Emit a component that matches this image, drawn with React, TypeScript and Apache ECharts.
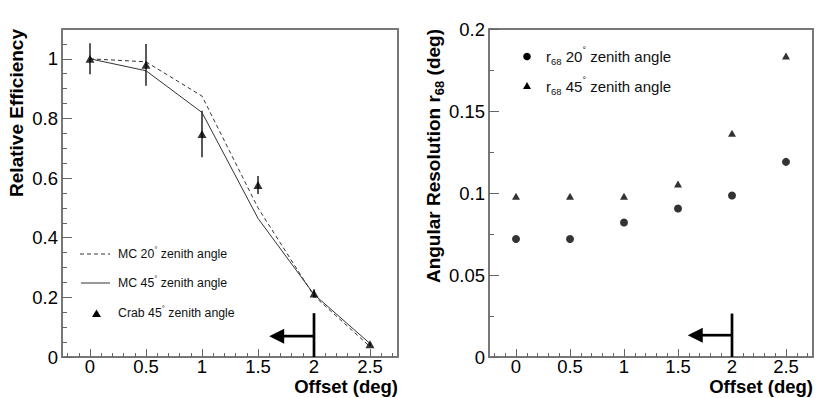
import React, { useEffect, useRef } from "react";
import * as echarts from "echarts";

// ---------- data ----------
const offsets = [0, 0.5, 1, 1.5, 2, 2.5];
const mc20 = [1.0, 0.99, 0.875, 0.5, 0.205, 0.035];
const mc45 = [1.0, 0.96, 0.82, 0.465, 0.21, 0.045];
const crab45 = [1.0, 0.98, 0.748, 0.577, 0.213, 0.043];
const crab45Err = [0.052, 0.07, 0.078, 0.03, 0.014, 0.006];
const r68zen20 = [0.072, 0.072, 0.082, 0.0905, 0.0985, 0.119];
const r68zen45 = [0.098, 0.098, 0.098, 0.1055, 0.1365, 0.1835];

// ---------- ticks ----------
const xTickValues = [0, 0.5, 1, 1.5, 2, 2.5];
const xMinorTickValues = [
  -0.2, -0.1, 0.1, 0.2, 0.3, 0.4, 0.6, 0.7, 0.8, 0.9, 1.1, 1.2, 1.3, 1.4,
  1.6, 1.7, 1.8, 1.9, 2.1, 2.2, 2.3, 2.4, 2.6, 2.7,
];
const effTickValues = [0, 0.2, 0.4, 0.6, 0.8, 1];
const effMinorTickValues = [
  0.05, 0.1, 0.15, 0.25, 0.3, 0.35, 0.45, 0.5, 0.55, 0.65, 0.7, 0.75, 0.85,
  0.9, 0.95, 1.05,
];
const resTickValues = [0, 0.05, 0.1, 0.15, 0.2];
const resMinorTickValues = [0.025, 0.075, 0.125, 0.175];

// fiducial cut arrows: [cut offset, top of bar, arrow level, arrow tip offset]
const effCutArrow = [2, 0.147, 0.07, 1.6];
const resCutArrow = [2, 0.0265, 0.0133, 1.59];

const FONT = "Liberation Sans";
const FRAME = "#777";
const TICK = "#666";

function majorX(gridIndex: number) {
  return {
    type: "value",
    gridIndex,
    position: "bottom",
    min: -0.25,
    max: 2.75,
    axisLine: { show: true, onZero: false, lineStyle: { color: FRAME, width: 2 } },
    axisTick: {
      show: true,
      inside: true,
      length: 8,
      customValues: xTickValues,
      lineStyle: { color: TICK, width: 1 },
    },
    axisLabel: {
      customValues: xTickValues,
      fontFamily: FONT,
      fontSize: 18.5,
      color: "#000",
      margin: 0,
    },
    splitLine: { show: false },
  };
}
function minorX(gridIndex: number) {
  return {
    type: "value",
    gridIndex,
    position: "bottom",
    min: -0.25,
    max: 2.75,
    axisLine: { show: false, onZero: false },
    axisTick: {
      show: true,
      inside: true,
      length: 4,
      customValues: xMinorTickValues,
      lineStyle: { color: TICK, width: 1 },
    },
    axisLabel: { show: false },
    splitLine: { show: false },
  };
}
function frameX(gridIndex: number) {
  return {
    type: "value",
    gridIndex,
    position: "top",
    min: -0.25,
    max: 2.75,
    axisLine: { show: true, onZero: false, lineStyle: { color: FRAME, width: 2 } },
    axisTick: { show: false },
    axisLabel: { show: false },
    splitLine: { show: false },
  };
}
function majorY(gridIndex: number, max: number, ticks: number[]) {
  return {
    type: "value",
    gridIndex,
    position: "left",
    min: 0,
    max,
    axisLine: { show: true, onZero: false, lineStyle: { color: FRAME, width: 2 } },
    axisTick: {
      show: true,
      inside: true,
      length: 10,
      customValues: ticks,
      lineStyle: { color: TICK, width: 1 },
    },
    axisLabel: {
      customValues: ticks,
      fontFamily: FONT,
      fontSize: 18.5,
      color: "#000",
      margin: 4,
    },
    splitLine: { show: false },
  };
}
function minorY(gridIndex: number, max: number, ticks: number[]) {
  return {
    type: "value",
    gridIndex,
    position: "left",
    min: 0,
    max,
    axisLine: { show: false, onZero: false },
    axisTick: {
      show: true,
      inside: true,
      length: 5,
      customValues: ticks,
      lineStyle: { color: TICK, width: 1 },
    },
    axisLabel: { show: false },
    splitLine: { show: false },
  };
}
function frameY(gridIndex: number, max: number) {
  return {
    type: "value",
    gridIndex,
    position: "right",
    min: 0,
    max,
    axisLine: { show: true, onZero: false, lineStyle: { color: FRAME, width: 2 } },
    axisTick: { show: false },
    axisLabel: { show: false },
    splitLine: { show: false },
  };
}

function arrowRender(params: any, api: any) {
  const x = api.value(0);
  const top = api.value(1);
  const ay = api.value(2);
  const tip = api.value(3);
  const base = api.coord([x, 0]);
  const t = api.coord([x, top]);
  const a = api.coord([x, ay]);
  const tp = api.coord([tip, ay]);
  const head = 15;
  return {
    type: "group",
    children: [
      {
        type: "line",
        shape: { x1: base[0], y1: base[1], x2: t[0], y2: t[1] },
        style: { stroke: "#000", lineWidth: 2.7 },
      },
      {
        type: "line",
        shape: { x1: a[0], y1: a[1], x2: tp[0] + head - 1, y2: a[1] },
        style: { stroke: "#000", lineWidth: 2.7 },
      },
      {
        type: "polygon",
        shape: {
          points: [
            [tp[0], a[1]],
            [tp[0] + head, a[1] - 7.5],
            [tp[0] + head, a[1] + 7.5],
          ],
        },
        style: { fill: "#000" },
      },
    ],
  };
}

function errRender(params: any, api: any) {
  const x = api.value(0);
  const lo = api.coord([x, api.value(1)]);
  const hi = api.coord([x, api.value(2)]);
  return {
    type: "line",
    shape: { x1: lo[0], y1: lo[1], x2: hi[0], y2: hi[1] },
    style: { stroke: "#000", lineWidth: 1.3 },
  };
}

const legRichL = {
  t: { fontSize: 12.3, fontFamily: FONT, lineHeight: 18, fill: "#111" },
  u: { fontSize: 8, fontFamily: FONT, lineHeight: 8, verticalAlign: "top", fill: "#111" },
};
const legRichR = {
  t: { fontSize: 15, fontFamily: FONT, lineHeight: 21, fill: "#111" },
  u: { fontSize: 9, fontFamily: FONT, lineHeight: 9, verticalAlign: "top", fill: "#111" },
  d: { fontSize: 9.5, fontFamily: FONT, lineHeight: 10, verticalAlign: "bottom", fill: "#111" },
};

function legText(x: number, y: number, text: string, rich: any) {
  return {
    type: "text",
    x,
    y,
    style: {
      text,
      rich,
      align: "left",
      verticalAlign: "middle",
      textAlign: "left",
      textVerticalAlign: "middle",
    },
  };
}

function xTitle(x: number) {
  return {
    type: "text",
    x,
    y: 386,
    style: {
      text: "Offset (deg)",
      font: "bold 18.5px " + FONT,
      fill: "#000",
      align: "right",
      verticalAlign: "middle",
      textAlign: "right",
      textVerticalAlign: "middle",
    },
  };
}

export default function App() {
  const ref = useRef<HTMLDivElement>(null);
  useEffect(() => {
    if (!ref.current) return;
    const chart = echarts.init(ref.current, undefined, { renderer: "svg" });
    const option: any = {
      animation: false,
      backgroundColor: "#fff",
      grid: [
        { left: 62, top: 29, width: 336, height: 328 },
        { left: 489, top: 29, width: 324, height: 328 },
      ],
      xAxis: [majorX(0), minorX(0), majorX(1), minorX(1), frameX(0), frameX(1)],
      yAxis: [
        majorY(0, 1.1, effTickValues),
        minorY(0, 1.1, effMinorTickValues),
        majorY(1, 0.2, resTickValues),
        minorY(1, 0.2, resMinorTickValues),
        frameY(0, 1.1),
        frameY(1, 0.2),
      ],
      series: [
        {
          name: "MC 20° zenith angle",
          type: "line",
          xAxisIndex: 0,
          yAxisIndex: 0,
          showSymbol: false,
          data: offsets.map((x, i) => [x, mc20[i]]),
          lineStyle: { color: "#333", width: 1, type: [4, 3] },
        },
        {
          name: "MC 45° zenith angle",
          type: "line",
          xAxisIndex: 0,
          yAxisIndex: 0,
          showSymbol: false,
          data: offsets.map((x, i) => [x, mc45[i]]),
          lineStyle: { color: "#333", width: 1 },
        },
        {
          name: "Crab errors",
          type: "custom",
          xAxisIndex: 0,
          yAxisIndex: 0,
          renderItem: errRender,
          encode: { x: 0, y: [1, 2] },
          data: offsets.map((x, i) => [x, crab45[i] - crab45Err[i], crab45[i] + crab45Err[i]]),
          z: 3,
        },
        {
          name: "Crab 45° zenith angle",
          type: "scatter",
          xAxisIndex: 0,
          yAxisIndex: 0,
          symbol: "triangle",
          symbolSize: [9, 8],
          itemStyle: { color: "#000" },
          data: offsets.map((x, i) => [x, crab45[i]]),
          z: 4,
        },
        {
          name: "cut left",
          type: "custom",
          xAxisIndex: 0,
          yAxisIndex: 0,
          renderItem: arrowRender,
          encode: { x: [0, 3], y: [1, 2] },
          data: [effCutArrow],
          z: 5,
        },
        {
          name: "r68 20° zenith angle",
          type: "scatter",
          xAxisIndex: 2,
          yAxisIndex: 2,
          symbol: "circle",
          symbolSize: 8,
          itemStyle: { color: "#000" },
          data: offsets.map((x, i) => [x, r68zen20[i]]),
        },
        {
          name: "r68 45° zenith angle",
          type: "scatter",
          xAxisIndex: 2,
          yAxisIndex: 2,
          symbol: "triangle",
          symbolSize: [8, 7],
          itemStyle: { color: "#000" },
          data: offsets.map((x, i) => [x, r68zen45[i]]),
        },
        {
          name: "cut right",
          type: "custom",
          xAxisIndex: 2,
          yAxisIndex: 2,
          renderItem: arrowRender,
          encode: { x: [0, 3], y: [1, 2] },
          data: [resCutArrow],
          z: 5,
        },
      ],
      graphic: [
        // axis titles
        {
          type: "text",
          x: 16.5,
          y: 29,
          rotation: Math.PI / 2,
          style: {
            text: "Relative Efficiency",
            font: "bold 19px " + FONT,
            fill: "#000",
            align: "right",
            verticalAlign: "middle",
            textAlign: "right",
            textVerticalAlign: "middle",
          },
        },
        {
          type: "text",
          x: 433,
          y: 29,
          rotation: Math.PI / 2,
          style: {
            text: "{t|Angular Resolution r}{b|68}{t| (deg)}",
            rich: {
              t: { fontSize: 19, fontWeight: "bold", fontFamily: FONT, lineHeight: 26, fill: "#000" },
              b: { fontSize: 13, fontWeight: "bold", fontFamily: FONT, lineHeight: 13, verticalAlign: "bottom", fill: "#000" },
            },
            align: "right",
            verticalAlign: "middle",
            textAlign: "right",
            textVerticalAlign: "middle",
          },
        },
        xTitle(398),
        xTitle(813),
        // left legend
        {
          type: "line",
          shape: { x1: 80, y1: 254, x2: 110, y2: 254 },
          style: { stroke: "#333", lineWidth: 1, lineDash: [4, 3] },
        },
        legText(118, 254, "{t|MC 20}{u|°}{t| zenith angle}", legRichL),
        {
          type: "line",
          shape: { x1: 81, y1: 283, x2: 110, y2: 283 },
          style: { stroke: "#333", lineWidth: 1 },
        },
        legText(118, 283, "{t|MC 45}{u|°}{t| zenith angle}", legRichL),
        {
          type: "polygon",
          shape: { points: [[96.5, 309.5], [92, 317], [101, 317]] },
          style: { fill: "#000" },
        },
        legText(118, 313, "{t|Crab 45}{u|°}{t| zenith angle}", legRichL),
        // right legend
        {
          type: "circle",
          shape: { cx: 527, cy: 56.5, r: 3.8 },
          style: { fill: "#000" },
        },
        legText(546, 56, "{t|r}{d|68}{t| 20}{u|°}{t| zenith angle}", legRichR),
        {
          type: "polygon",
          shape: { points: [[527, 82], [523, 89], [531, 89]] },
          style: { fill: "#000" },
        },
        legText(546, 86, "{t|r}{d|68}{t| 45}{u|°}{t| zenith angle}", legRichR),
      ],
    };
    chart.setOption(option);
    return () => chart.dispose();
  }, []);
  return (
    <div
      ref={ref}
      style={{ position: "absolute", left: 0, top: 0, width: 830, height: 398, background: "#fff" }}
    />
  );
}
